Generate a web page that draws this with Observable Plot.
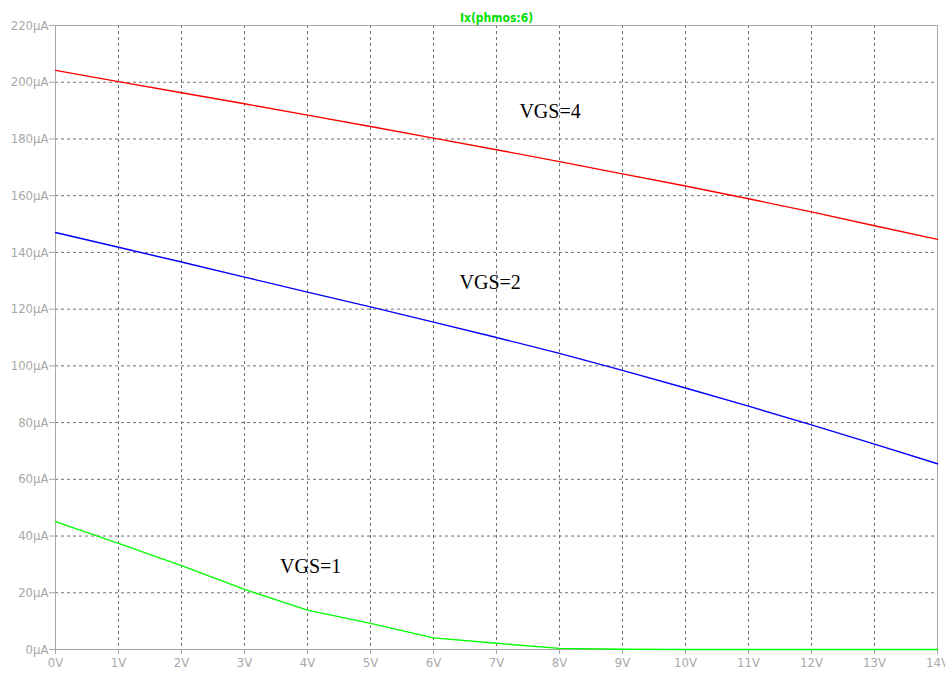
<!DOCTYPE html>
<html>
<head>
<meta charset="utf-8">
<script src="https://cdn.jsdelivr.net/npm/d3@7"></script>
<script src="https://cdn.jsdelivr.net/npm/@observablehq/plot@0.6"></script>
<style>
  html, body { margin: 0; padding: 0; background: #fff; }
  #chart { width: 945px; height: 673px; overflow: hidden; }
</style>
</head>
<body>
<div id="chart"></div>
<script>
// Drain voltage sweep (V)
const vds = [0, 1, 2, 3, 4, 5, 6, 7, 8, 9, 10, 11, 12, 13, 14];

// Drain current Ix(phmos:6) in µA for each gate-source voltage
const idVgs4 = [204.2, 200.2, 196.3, 192.4, 188.4, 184.4, 180.3, 176.2, 172.0, 167.7, 163.4, 158.9, 154.3, 149.4, 144.6];
const idVgs2 = [147.0, 141.8, 136.6, 131.3, 126.0, 120.8, 115.4, 110.0, 104.4, 98.4, 92.2, 85.8, 79.2, 72.4, 65.5];
const idVgs1 = [45.1, 37.4, 29.6, 21.2, 13.9, 9.2, 4.1, 2.2, 0.4, 0.1, 0.0, 0.0, 0.0, 0.0, 0.0];

const seriesNames = ["VGS=4", "VGS=2", "VGS=1"];
const seriesColors = ["#ff0000", "#0000ff", "#00ff00"];

// Curve annotations: label, x (V), y (µA)
const labelText = ["VGS=4", "VGS=2", "VGS=1"];
const labelX = [7.85, 6.9, 4.05];
const labelY = [189.6, 129.2, 29.2];

const xTicks = [0, 1, 2, 3, 4, 5, 6, 7, 8, 9, 10, 11, 12, 13, 14];
const yTicks = [0, 20, 40, 60, 80, 100, 120, 140, 160, 180, 200, 220];
const title = "Ix(phmos:6)";

const curves = [idVgs4, idVgs2, idVgs1].flatMap((ys, s) =>
  vds.map((v, i) => ({v, id: ys[i], series: seriesNames[s]}))
);
const labels = labelText.map((t, i) => ({t, x: labelX[i], y: labelY[i]}));

const tickFont = "'DejaVu Sans Condensed', 'DejaVu Sans', sans-serif";
const gridColor = "#707070";
const axisColor = "#a8a8a8";

const plot = Plot.plot({
  width: 945,
  height: 673,
  marginLeft: 55,
  marginRight: 8,
  marginTop: 25,
  marginBottom: 24,
  style: {fontFamily: tickFont, fontStretch: "condensed", fontSize: "13px", background: "#fff", overflow: "visible"},
  x: {domain: [0, 14]},
  y: {domain: [0, 220]},
  color: {domain: seriesNames, range: seriesColors},
  marks: [
    Plot.gridX(xTicks.slice(1, -1), {stroke: gridColor, strokeOpacity: 1, strokeDasharray: "3,3"}),
    Plot.gridY(yTicks.slice(1, -1), {stroke: gridColor, strokeOpacity: 1, strokeDasharray: "3,3"}),
    Plot.frame({stroke: axisColor}),
    Plot.axisX({ticks: xTicks, tickFormat: d => `${d}V`, tickSize: 5, tickPadding: 3,
      stroke: axisColor, fill: axisColor, label: null, fontSize: 13}),
    Plot.axisY({ticks: yTicks, tickFormat: d => `${d}µA`, tickSize: 6, tickPadding: 1,
      stroke: axisColor, fill: axisColor, label: null, fontSize: 13}),
    Plot.line(curves, {x: "v", y: "id", z: "series", stroke: "series", strokeWidth: 1.4}),
    Plot.text(labels, {x: "x", y: "y", text: "t", fill: "#000",
      fontFamily: "'Liberation Serif', 'Times New Roman', serif", fontSize: 20}),
    Plot.text([title], {frameAnchor: "top", dy: -12, text: d => d, fill: "#00e000",
      fontFamily: tickFont, fontSize: 12, fontWeight: "bold"})
  ]
});
document.getElementById("chart").appendChild(plot);
</script>
</body>
</html>
